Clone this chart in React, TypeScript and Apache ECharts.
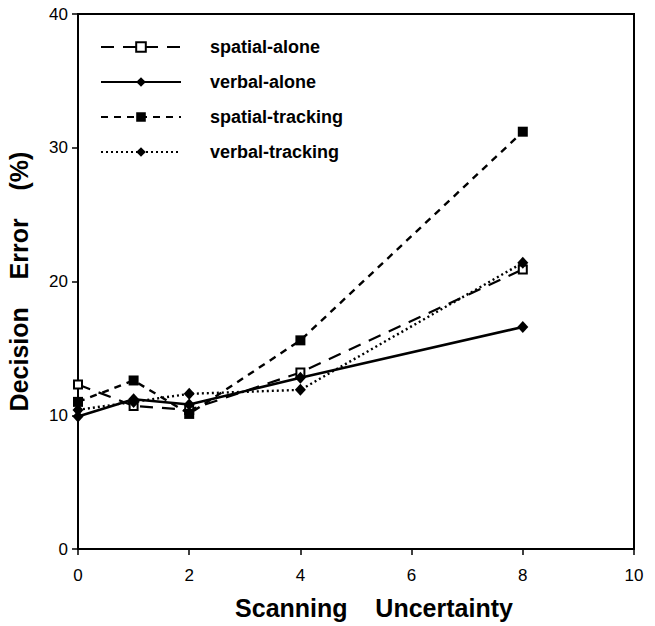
import React, { useEffect, useRef } from "react";
import * as echarts from "echarts";

// Scanning uncertainty levels (x) and decision error (%) for each condition
const uncertainty = [0, 1, 2, 4, 8];
const spatialAlone = [12.3, 10.7, 10.4, 13.2, 20.9];
const verbalAlone = [9.9, 11.2, 10.8, 12.8, 16.6];
const spatialTracking = [11.0, 12.6, 10.1, 15.6, 31.2];
const verbalTracking = [10.4, 11.0, 11.6, 11.9, 21.4];

const seriesNames = ["spatial-alone", "verbal-alone", "spatial-tracking", "verbal-tracking"];
const xTicks = { min: 0, max: 10, interval: 2 };
const yTicks = { min: 0, max: 40, interval: 10 };

const FONT = "'Liberation Sans', Arial, Helvetica, sans-serif";

const pairs = (ys: number[]) => uncertainty.map((x, i) => [x, ys[i]]);

export default function App() {
  const ref = useRef<HTMLDivElement>(null);

  useEffect(() => {
    if (!ref.current) return;
    const chart = echarts.init(ref.current, undefined, { renderer: "svg" });

    const base = {
      type: "line" as const,
      color: "#000",
      z: 3,
    };

    chart.setOption({
      animation: false,
      backgroundColor: "#fff",
      grid: {
        left: 78,
        right: 21,
        top: 14,
        bottom: 77,
        outerBoundsMode: "none",
        show: true,
        borderColor: "#000",
        borderWidth: 2,
      },
      legend: {
        orient: "vertical",
        left: 95,
        top: 33,
        itemWidth: 80,
        itemHeight: 12,
        itemGap: 17,
        data: seriesNames,
        textStyle: {
          color: "#000",
          fontSize: 18,
          fontWeight: "bold",
          fontFamily: FONT,
          padding: [0, 0, 0, 24],
        },
      },
      xAxis: {
        type: "value",
        ...xTicks,
        name: "Scanning    Uncertainty",
        nameLocation: "middle",
        nameGap: 46,
        nameTextStyle: {
          color: "#000",
          fontSize: 25,
          fontWeight: "bold",
          fontFamily: FONT,
          padding: [0, 0, 0, 36],
        },
        axisLine: { show: true, lineStyle: { color: "#000", width: 2 } },
        axisTick: { show: true, length: 6, lineStyle: { color: "#000", width: 1.5 } },
        axisLabel: { color: "#000", fontSize: 17, fontFamily: FONT, margin: 18 },
        splitLine: { show: false },
      },
      yAxis: {
        type: "value",
        ...yTicks,
        name: "Decision    Error    (%)",
        nameLocation: "middle",
        nameGap: 47,
        nameRotate: 90,
        nameTextStyle: {
          color: "#000",
          fontSize: 25,
          fontWeight: "bold",
          fontFamily: FONT,
        },
        axisLine: { show: true, lineStyle: { color: "#000", width: 2 } },
        axisTick: { show: true, length: 6, lineStyle: { color: "#000", width: 1.5 } },
        axisLabel: { color: "#000", fontSize: 17, fontFamily: FONT, margin: 10 },
        splitLine: { show: false },
      },
      series: [
        {
          ...base,
          name: seriesNames[0],
          data: pairs(spatialAlone),
          symbol: "rect",
          symbolSize: 8,
          itemStyle: { color: "#fff", borderColor: "#000", borderWidth: 2 },
          lineStyle: { color: "#000", width: 2.2, type: [13, 9] },
        },
        {
          ...base,
          name: seriesNames[1],
          data: pairs(verbalAlone),
          symbol: "diamond",
          symbolSize: [11, 12],
          itemStyle: { color: "#000" },
          lineStyle: { color: "#000", width: 2.6, type: "solid" },
        },
        {
          ...base,
          name: seriesNames[2],
          data: pairs(spatialTracking),
          symbol: "rect",
          symbolSize: 10,
          itemStyle: { color: "#000" },
          lineStyle: { color: "#000", width: 2.4, type: [7, 6] },
        },
        {
          ...base,
          name: seriesNames[3],
          data: pairs(verbalTracking),
          symbol: "diamond",
          symbolSize: [11, 12],
          itemStyle: { color: "#000" },
          lineStyle: { color: "#000", width: 2.4, type: [2, 3] },
        },
      ],
    });

    return () => chart.dispose();
  }, []);

  return (
    <div
      ref={ref}
      style={{ position: "fixed", left: 0, top: 0, width: 655, height: 626, background: "#fff" }}
    />
  );
}
